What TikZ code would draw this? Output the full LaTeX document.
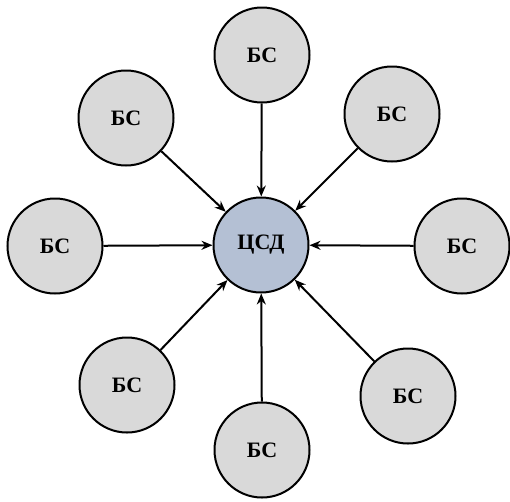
\documentclass[tikz,border=0pt]{standalone}
\usepackage{fontspec}
\setmainfont{Liberation Serif}
\usetikzlibrary{arrows.meta}
\definecolor{stationfill}{RGB}{217,217,217}
\definecolor{hubfill}{RGB}{180,192,212}
\begin{document}
\begin{tikzpicture}[x=1pt,y=-1pt,
  station/.style={circle,draw=black,line width=2pt,fill=stationfill,
    minimum size=95pt,inner sep=0pt,font=\fontsize{22}{26}\selectfont\bfseries},
  hub/.style={station,fill=hubfill},
  link/.style={line width=2pt,-{Stealth[length=11pt,width=9pt]}}]
\useasboundingbox (0,0) rectangle (510,501);
\node[hub] (c) at (261,245) {ЦСД};
\node[station] (n)  at (262,55)  {БС};
\node[station] (ne) at (392,114) {БС};
\node[station] (e)  at (462,246) {БС};
\node[station] (se) at (408,396) {БС};
\node[station] (s)  at (262,450) {БС};
\node[station] (sw) at (127,385) {БС};
\node[station] (w)  at (55,246)  {БС};
\node[station] (nw) at (126,118) {БС};
\foreach \k in {n,ne,e,se,s,sw,w,nw}
  \draw[link] (\k) -- (c);
\end{tikzpicture}
\end{document}
